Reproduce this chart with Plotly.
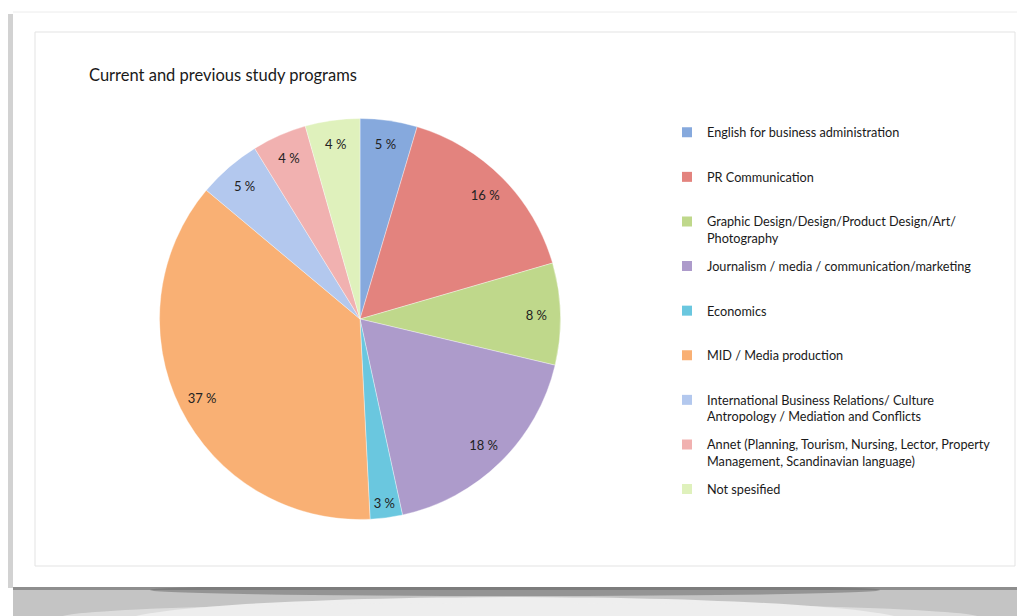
import plotly.graph_objects as go

# ---- data ----
categories = [
    "English for business administration",
    "PR Communication",
    "Graphic Design/Design/Product Design/Art/<br>Photography",
    "Journalism / media / communication/marketing",
    "Economics",
    "MID / Media production",
    "International Business Relations/ Culture<br>Antropology / Mediation and Conflicts",
    "Annet (Planning, Tourism, Nursing, Lector, Property<br>Management, Scandinavian language)",
    "Not spesified",
]
shares = [4.6, 15.9, 8.2, 17.9, 2.6, 36.9, 5.1, 4.4, 4.4]  # percent
colors = ["#86a9dd", "#e3837e", "#bfd88b", "#ad9bcb", "#6ac7df",
          "#f9b074", "#b3c8ee", "#f1b1b0", "#dff1bc"]
title_text = "Current and previous study programs"

# page places the figure 8px from the top-left corner
OFF = 8
W, H = 1025 - OFF, 616 - OFF


def px(x):
    return (x - OFF) / W


def py(y):
    return 1 - (y - OFF) / H


FONT = "Lato, 'Open Sans', sans-serif"
cx0, cx1, cy0, cy1 = 159.5, 560.5, 118.5, 519.5  # pie bounding box

fig = go.Figure()
fig.add_trace(go.Pie(
    labels=categories,
    values=shares,
    sort=False,
    direction="clockwise",
    rotation=0,
    showlegend=False,
    marker=dict(colors=colors, line=dict(color="rgba(255,255,255,0.6)", width=0.6)),
    textinfo="none",
    domain=dict(x=[px(cx0), px(cx1)], y=[py(cy1), py(cy0)]),
    hovertemplate="%{label}: %{value:.0f} %<extra></extra>",
))
# transparent ring carrying the percentage labels near the rim
fig.add_trace(go.Pie(
    labels=categories,
    values=shares,
    sort=False,
    direction="clockwise",
    rotation=0,
    hole=0.76,
    showlegend=False,
    marker=dict(colors=["rgba(0,0,0,0)"] * len(shares), line=dict(width=0)),
    texttemplate="%{value:.0f} %",
    textposition="inside",
    insidetextorientation="horizontal",
    textfont=dict(family=FONT, size=13, color="#222222"),
    domain=dict(x=[px(cx0), px(cx1)], y=[py(cy1), py(cy0)]),
    hoverinfo="skip",
))

# legend: one evenly spaced entry per category
LEG_TOP, LEG_STEP = 117.5, 44.6
legends = {}
for i, (name, col) in enumerate(zip(categories, colors)):
    key = "legend" if i == 0 else "legend%d" % (i + 1)
    fig.add_trace(go.Scatter(
        x=[None], y=[None], mode="markers", name=name,
        marker=dict(symbol="square", size=10, color=col),
        legend=key, hoverinfo="skip",
    ))
    legends[key] = dict(x=px(667), xanchor="left", y=py(LEG_TOP + i * LEG_STEP), yanchor="top",
                        valign="top", bgcolor="rgba(0,0,0,0)",
                        font=dict(family=FONT, size=12.7, color="#1a1a1a"))


def rect(x0, x1, y0, y1, color):
    return dict(type="rect", xref="paper", yref="paper", x0=px(x0), x1=px(x1),
                y0=py(y1), y1=py(y0), fillcolor=color, line=dict(width=0), layer="below")


shapes = [
    # left side shadow strip
    rect(8, 13, 14, 588, "#d2d2d2"),
    # bottom shadow
    rect(13, 1025, 587, 616, "#c4c4c4"),
    dict(type="circle", xref="paper", yref="paper", x0=px(120), x1=px(910),
         y0=py(650), y1=py(597), fillcolor="#eeeeee", line=dict(width=0), layer="below"),
    dict(type="circle", xref="paper", yref="paper", x0=px(60), x1=px(980),
         y0=py(632), y1=py(603), fillcolor="rgba(238,238,238,0.6)", line=dict(width=0), layer="below"),
    rect(13, 1025, 587, 590, "#8e8e8e"),
    dict(type="circle", xref="paper", yref="paper", x0=px(150), x1=px(880),
         y0=py(596), y1=py(584), fillcolor="rgba(110,110,110,0.55)", line=dict(width=0), layer="below"),
    # white card
    rect(13, 1025, 12, 587, "#ffffff"),
    # top faint line
    dict(type="line", xref="paper", yref="paper", x0=px(13), x1=1, y0=py(12), y1=py(12),
         line=dict(color="#ececec", width=1), layer="below"),
    # inner chart border
    dict(type="rect", xref="paper", yref="paper", x0=px(35), x1=px(1015), y0=py(566), y1=py(32),
         fillcolor="rgba(0,0,0,0)", line=dict(color="#e3e3e3", width=1), layer="below"),
]

fig.update_layout(
    width=W, height=H,
    margin=dict(l=0, r=0, t=0, b=0),
    paper_bgcolor="#ffffff",
    plot_bgcolor="rgba(0,0,0,0)",
    xaxis=dict(visible=False),
    yaxis=dict(visible=False),
    shapes=shapes,
    title=dict(text=title_text, x=px(89), xanchor="left", xref="paper",
               y=py(75), yanchor="middle", yref="paper",
               font=dict(family=FONT, size=16.5, color="#1a1a1a")),
    showlegend=True,
    **legends,
)

fig.write_html("out.html")
